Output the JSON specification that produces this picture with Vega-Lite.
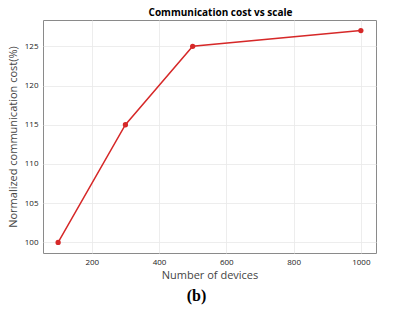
{
  "$schema": "https://vega.github.io/schema/vega-lite/v6.json",
  "width": 333,
  "height": 233,
  "autosize": {"type": "none"},
  "padding": {"left": 43, "top": 20, "right": 20, "bottom": 64},
  "background": "white",
  "title": {
    "text": "(b)",
    "orient": "bottom",
    "font": "Liberation Serif",
    "fontSize": 16,
    "fontWeight": "bold",
    "color": "#000000",
    "offset": 8,
    "dx": -13
  },
  "config": {
    "view": {"stroke": "#8a8a8a", "strokeWidth": 1},
    "axis": {
      "labelFont": "Open Sans",
      "titleFont": "Open Sans",
      "labelFontSize": 8,
      "labelColor": "#222222",
      "titleFontSize": 11,
      "titleFontWeight": "normal",
      "titleColor": "#444444",
      "gridColor": "#e8e8e8",
      "gridWidth": 0.8,
      "domain": false,
      "ticks": false
    }
  },
  "data": {
    "values": [
      {"devices": 100, "cost": 100},
      {"devices": 300, "cost": 115},
      {"devices": 500, "cost": 125},
      {"devices": 1000, "cost": 127}
    ]
  },
  "layer": [
    {
      "mark": {"type": "line", "color": "#d62828", "strokeWidth": 1.5},
      "encoding": {
        "x": {
          "field": "devices",
          "type": "quantitative",
          "scale": {"domain": [55, 1045], "nice": false, "zero": false},
          "axis": {
            "orient": "bottom",
            "values": [200, 400, 600, 800, 1000],
            "format": "d",
            "title": "Number of devices",
            "labelPadding": 5,
            "titlePadding": 3
          }
        },
        "y": {
          "field": "cost",
          "type": "quantitative",
          "scale": {"domain": [98.65, 128.35], "nice": false, "zero": false},
          "axis": {
            "values": [100, 105, 110, 115, 120, 125],
            "format": "d",
            "title": "Normalized communication cost(%)",
            "labelPadding": 5,
            "titlePadding": 6
          }
        }
      }
    },
    {
      "mark": {"type": "point", "filled": true, "color": "#d62828", "size": 28, "opacity": 1},
      "encoding": {
        "x": {
          "field": "devices",
          "type": "quantitative",
          "scale": {"domain": [55, 1045], "nice": false, "zero": false},
          "axis": {
            "orient": "top",
            "labels": false,
            "grid": false,
            "ticks": false,
            "domain": false,
            "title": "Communication cost vs scale",
            "titleFontWeight": "bold",
            "titleFontSize": 10,
            "titleColor": "#000000",
            "titlePadding": 3,
            "titleX": 177
          }
        },
        "y": {"field": "cost", "type": "quantitative"}
      }
    }
  ],
  "resolve": {"axis": {"x": "independent"}}
}
